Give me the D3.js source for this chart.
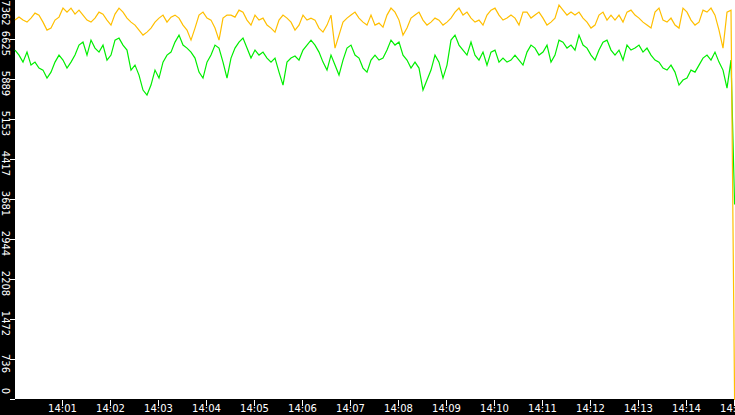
<!DOCTYPE html>
<html><head><meta charset="utf-8">
<script src="https://cdn.jsdelivr.net/npm/d3@7"></script>
<style>body{margin:0;background:#fff}svg{display:block}</style>
</head><body>
<svg id="c" width="735" height="415"></svg>
<script>
const yTicks=[0,736,1472,2208,2944,3681,4417,5153,5889,6625,7362];
const xTickLabels=["14:01","14:02","14:03","14:04","14:05","14:06","14:07","14:08","14:09","14:10","14:11","14:12","14:13","14:14","14:15"];
const stepSeconds=5;
const seriesA=[6992,7047,6992,6955,7029,7121,7084,6955,6808,6845,6992,7047,7213,7139,7213,7102,7176,7084,6992,6955,7029,7139,7102,6992,6900,7102,7213,7139,7029,6955,
6900,6808,6716,6771,6845,6955,7029,7084,6955,7047,7084,7029,6900,6808,6624,6845,7084,7139,7029,6992,6845,6624,7029,7084,7084,7047,7176,7139,6992,6900,
7084,6992,7029,6900,6845,6771,6992,7084,7029,6955,6808,6900,7084,6992,7029,6992,6845,6771,6900,7084,6477,6716,6955,7029,7084,7139,7029,6955,6900,7084,
6900,6937,6863,7084,7213,7139,6992,6716,6845,7029,7084,7139,6992,6900,6955,7029,6992,6900,6955,7029,7139,7213,7084,7139,7029,6955,6992,6900,7084,7176,
7213,7084,6992,7029,7084,7029,6900,7139,7139,7029,7084,7139,7029,6900,6955,7029,7268,7176,7084,7139,7084,7139,7029,6955,6845,6900,7084,7139,6992,7084,
6992,7084,6955,7139,7176,7084,7029,6955,6900,6845,7139,7213,6992,6955,7029,6900,6845,7213,7139,6992,6900,6955,7176,7139,7213,7084,6808,6477,7139,7176];
const seriesB=[6440,6348,6219,6403,6164,6219,6109,6072,5925,6035,6219,6348,6256,6109,6219,6348,6532,6587,6348,6624,6477,6403,6532,6256,6348,6624,6661,6532,6440,6072,
6164,5980,5704,5612,5796,6072,5925,6219,6348,6403,6587,6716,6532,6477,6403,6293,6035,5925,6219,6348,6532,6477,6219,5925,6293,6477,6587,6661,6477,6293,
6440,6348,6403,6293,6219,6293,6035,5796,6219,6293,6330,6256,6440,6532,6624,6532,6403,6219,6072,6348,6164,5980,6256,6477,6532,6348,6293,6109,6035,6256,
6348,6256,6293,6440,6624,6532,6587,6348,6256,6109,6219,6109,5704,5888,6072,6348,6219,5925,6164,6624,6716,6532,6440,6348,6587,6348,6256,6403,6164,6403,
6440,6219,6293,6219,6256,6348,6256,6164,6403,6532,6477,6348,6403,6532,6219,6348,6624,6587,6477,6532,6440,6716,6532,6477,6348,6256,6440,6587,6624,6440,
6348,6440,6256,6532,6440,6477,6532,6403,6477,6348,6256,6219,6109,6072,6164,6035,5796,5888,5925,6072,6035,6164,6293,6348,6256,6403,6219,6072,5741,6256];
const endA=0, endB=3600;

const svg=d3.select("#c");
const W=735,H=415,L=15,B=400;
const t0=new Date(2020,0,1,14,0,0), t1=new Date(2020,0,1,14,15,0);
const x=d3.scaleTime().domain([t0,t1]).range([L,W]);
const y=d3.scaleLinear().domain([0,7362]).range([B,0]);
const tAt=i=>new Date(t0.getTime()+i*stepSeconds*1000);
const tEnd=new Date(t0.getTime()+899.5*1000);
const mk=(arr,end)=>arr.map((v,i)=>({t:tAt(i),v})).concat([{t:tEnd,v:end}]);
const line=d3.line().x(d=>x(d.t)).y(d=>y(d.v));

svg.append("rect").attr("x",0).attr("y",0).attr("width",L).attr("height",H).attr("fill","#000");
svg.append("rect").attr("x",0).attr("y",B-1).attr("width",W).attr("height",H-B+1).attr("fill","#000");

svg.append("path").datum(mk(seriesB,endB)).attr("d",line).attr("fill","none").attr("stroke","#00ee00").attr("stroke-width",1.2);
svg.append("path").datum(mk(seriesA,endA)).attr("d",line).attr("fill","none").attr("stroke","#ffbf00").attr("stroke-width",1.2);

const ya=svg.append("g");
yTicks.forEach(v=>{
  const py=Math.round(y(v))-0.5;
  ya.append("line").attr("x1",10).attr("x2",L).attr("y1",py).attr("y2",py).attr("stroke","#fff");
  const cy=Math.max(13,Math.min(391,py+4));
  ya.append("text").attr("transform",`translate(2,${cy}) rotate(90)`).attr("text-anchor","middle")
    .attr("fill","#fff").attr("font-family","DejaVu Sans").attr("font-size",10).text(v);
});
const xa=svg.append("g");
xTickLabels.forEach((lab,i)=>{
  const px=Math.round(x(new Date(t0.getTime()+(i+1)*60000)))-0.5;
  xa.append("line").attr("x1",px).attr("x2",px).attr("y1",B).attr("y2",B+6).attr("stroke","#fff");
  xa.append("text").attr("x",px).attr("y",H-3).attr("text-anchor","middle").attr("fill","#fff")
    .attr("font-family","DejaVu Sans").attr("font-size",10).text(lab);
});
</script>
</body></html>
